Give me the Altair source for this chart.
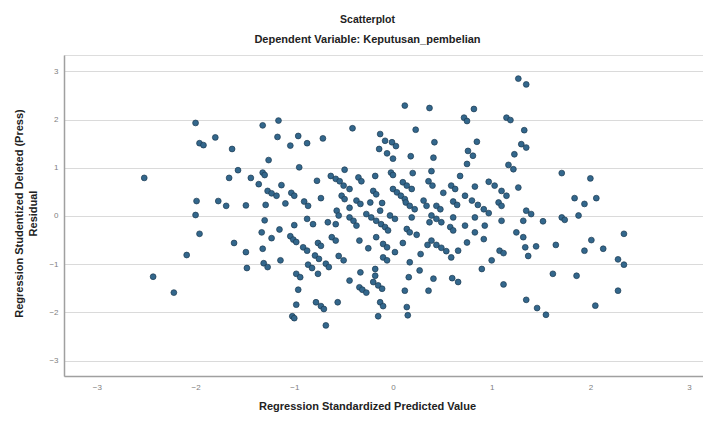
import altair as alt
import pandas as pd

# Regression Standardized Predicted Value (x) and Studentized Deleted Residual (y)
pred = [
    -2.52, -2.43, -2.22, -2.09, -2.00, -1.96, -1.92, -1.80, -1.63, -1.57,
    -1.66, -1.99, -1.77, -1.69, -2.00, -1.96, -1.61, -1.49, -1.49, -1.48,
    -1.44, -1.36, -1.32, -1.32, -1.30, -1.26, -1.29, -1.30, -1.33, -1.32,
    -1.31, -1.27, -1.27, -1.23, -1.18, -1.23, -1.16, -1.17, -1.15, -1.14,
    -1.13, -1.09, -1.04, -1.04, -1.01, -0.98, -1.03, -1.00, -1.00, -0.96,
    -0.95, -0.98, -0.94, -0.96, -0.98, -1.02, -1.00, -0.90, -0.86, -0.87,
    -0.81, -0.91, -0.87, -0.86, -0.82, -0.87, -0.79, -0.75, -0.77, -0.76,
    -0.73, -0.73, -0.76, -0.78, -0.73, -0.70, -0.68, -0.71, -0.68, -0.65,
    -0.66, -0.63, -0.58, -0.54, -0.50, -0.62, -0.58, -0.58, -0.57, -0.55,
    -0.55, -0.50, -0.56, -0.52, -0.49, -0.49, -0.44, -0.44, -0.44, -0.40,
    -0.37, -0.44, -0.41, -0.37, -0.33, -0.35, -0.32, -0.34, -0.33, -0.34,
    -0.31, -0.27, -0.27, -0.22, -0.17, -0.12, -0.08, -0.05, -0.25, -0.23,
    -0.20, -0.17, -0.18, -0.17, -0.18, -0.18, -0.20, -0.15, -0.11, -0.13,
    -0.10, -0.15, -0.13, -0.08, -0.14, -0.06, 0.00, -0.01, 0.03, -0.11,
    -0.13, -0.10, -0.06, -0.10, -0.06, -0.02, 0.00, 0.00, 0.04, 0.08,
    0.12, 0.13, 0.17, 0.22, -0.03, 0.02, 0.02, 0.10, 0.14, 0.20,
    0.19, 0.10, 0.14, 0.17, 0.19, 0.12, 0.18, 0.23, 0.17, 0.16,
    0.12, 0.14, 0.15, 0.24, 0.27, 0.28, 0.31, 0.34, 0.37, 0.37,
    0.35, 0.36, 0.36, 0.40, 0.39, 0.41, 0.42, 0.41, 0.39, 0.44,
    0.49, 0.44, 0.48, 0.39, 0.44, 0.49, 0.54, 0.59, 0.51, 0.58,
    0.61, 0.59, 0.63, 0.61, 0.65, 0.61, 0.60, 0.66, 0.66, 0.68,
    0.72, 0.75, 0.82, 0.75, 0.73, 0.73, 0.75, 0.76, 0.81, 0.85,
    0.80, 0.86, 0.92, 0.97, 0.83, 0.83, 0.83, 0.92, 0.93, 0.90,
    0.97, 1.03, 1.10, 1.15, 1.00, 1.08, 1.12, 1.12, 1.07, 1.10,
    1.10, 1.15, 1.19, 1.17, 1.22, 1.23, 1.27, 1.35, 1.33, 1.30,
    1.35, 1.27, 1.25, 1.32, 1.32, 1.34, 1.37, 1.35, 1.40, 1.35,
    1.46, 1.55, 1.45, 1.52, 1.62, 1.65, 1.71, 1.71, 1.74, 1.84,
    1.86, 1.88, 1.94, 1.94, 2.00, 2.01, 2.05, 2.06, 2.13, 2.28,
    2.34, 2.28, 2.34,
]
resid = [
    0.79, -1.26, -1.59, -0.81, 1.93, 1.51, 1.47, 1.63, 1.39, 0.95,
    0.79, 0.31, 0.31, 0.21, 0.02, -0.37, -0.56, 0.22, -0.75, -1.08,
    0.79, 0.66, 1.88, 0.90, 0.85, 1.16, 0.23, -0.09, -0.34, -0.68,
    -0.98, -1.06, 0.52, 0.47, 0.42, -0.46, 1.98, 1.64, -0.28, -0.92,
    0.64, 0.26, 1.46, -0.42, -0.49, -0.54, 0.48, 0.42, -0.19, 1.66,
    1.01, -1.20, -1.27, -1.53, -1.84, -2.08, -2.12, 0.30, 0.21, -0.06,
    -0.17, -0.65, -0.72, -1.01, -1.08, 1.51, -0.82, -0.89, 0.73, -0.56,
    -0.62, 0.37, -1.20, -1.79, -1.87, -1.93, -2.27, 1.61, -0.99, -1.06,
    -0.13, 0.83, 0.77, 0.72, 0.63, -0.44, -0.51, -0.17, 0.11, 0.01,
    -0.83, -0.92, -1.79, 0.42, 0.35, 0.96, 0.56, 0.17, -0.03, -0.10,
    -0.20, -1.34, 1.82, 0.32, 0.25, 0.80, 0.72, -0.51, -1.17, -1.48,
    -1.53, -1.59, 0.04, -0.03, -0.10, -0.17, -0.23, -0.30, -0.67, 0.28,
    0.52, 0.45, 0.83, -0.44, -1.10, -1.24, -1.37, -1.44, -1.51, -1.79,
    -1.87, -2.08, 1.70, 1.56, 1.39, 1.30, 1.19, 1.53, 1.45, 0.27,
    0.11, -0.58, -0.65, -0.86, -0.92, 0.90, 0.85, 0.56, 0.49, 0.42,
    0.35, 0.28, 0.21, 0.14, 0.01, -0.06, -0.75, 0.70, 0.63, 0.89,
    0.56, -0.56, -0.27, -0.34, -0.03, 2.29, 1.24, 1.79, -0.96, -1.27,
    -1.55, -1.89, -2.06, -0.39, -1.13, -0.79, 0.32, 0.21, 2.24, -0.13,
    -0.60, -1.55, 0.72, 0.63, 0.93, 1.21, 1.53, -1.30, 0.01, -0.06,
    -0.13, 0.21, 0.14, -0.51, -0.60, -0.66, -0.73, -0.86, 0.48, -0.23,
    -0.30, 0.63, 0.56, 0.30, 0.23, -0.03, -1.29, -1.37, -0.72, 0.83,
    2.04, 1.97, 2.22, 1.08, 0.42, -0.20, -0.55, 1.35, 1.25, 1.54,
    0.32, 0.23, 0.14, 0.06, 0.61, -0.03, -0.34, -0.48, -0.20, -1.10,
    0.71, 0.63, 0.52, 0.42, -0.92, -0.72, -0.77, -1.42, 0.28, 0.21,
    -0.10, 2.04, 1.99, 1.06, 0.97, 1.28, 2.85, 2.73, 1.78, 1.49,
    1.42, 0.59, -0.34, -0.44, -0.10, -0.65, -0.83, 0.11, 0.04, -1.74,
    -1.91, -2.05, -0.63, -0.11, -1.20, -0.60, 0.89, -0.03, -0.08, 0.37,
    -1.24, 0.01, 0.25, -0.72, 0.78, -0.50, -1.86, 0.37, -0.68, -0.90,
    -1.01, -1.55, -0.37,
]

n = min(len(pred), len(resid))
df = pd.DataFrame({"pred": pred[:n], "resid": resid[:n]})

tick_vals = [-3, -2, -1, 0, 1, 2, 3]
FONT = "Liberation Sans"

chart = (
    alt.Chart(df)
    .mark_circle(size=34, color="#33678c", stroke="#1d3b52", strokeWidth=0.7, opacity=1)
    .encode(
        x=alt.X(
            "pred:Q",
            scale=alt.Scale(domain=[-3.333, 3.141], nice=False, zero=False),
            axis=alt.Axis(
                values=tick_vals,
                grid=False,
                ticks=False,
                domainColor="#a0a0a0",
                domainWidth=1.5,
                labelFontSize=8,
                labelColor="#808080",
                labelPadding=7,
                labelFont=FONT,
                title="Regression Standardized Predicted Value",
                titleFont=FONT,
                titleFontSize=11,
                titleFontWeight="bold",
                titleColor="#222222",
                titleX=303,
                titleY=30,
                titleAlign="center",
                titleBaseline="middle",
            ),
        ),
        y=alt.Y(
            "resid:Q",
            scale=alt.Scale(domain=[-3.32, 3.34], nice=False, zero=False),
            axis=alt.Axis(
                values=tick_vals,
                grid=True,
                gridColor="#dadada",
                gridWidth=1,
                ticks=False,
                domainColor="#a0a0a0",
                domainWidth=1.5,
                labelFontSize=8,
                labelColor="#808080",
                labelPadding=6,
                labelFont=FONT,
                title=["Regression Studentized Deleted (Press)", "Residual"],
                titleFont=FONT,
                titleFontSize=11,
                titleFontWeight="bold",
                titleColor="#222222",
                titleAngle=-90,
                titleX=-42,
                titleY=158,
                titleAlign="center",
                titleBaseline="alphabetic",
                titleLineHeight=14,
            ),
        ),
    )
    .properties(
        width=639,
        height=321,
        padding={"left": 56, "top": 47, "right": 0, "bottom": 37},
        autosize=alt.AutoSizeParams(type="none"),
        title=alt.TitleParams(
            text="Scatterplot",
            subtitle="Dependent Variable: Keputusan_pembelian",
            anchor="middle",
            frame="group",
            dx=-16,
            offset=10,
            font=FONT,
            fontSize=10.5,
            fontWeight="bold",
            color="#222222",
            subtitleFont=FONT,
            subtitleFontSize=11,
            subtitleFontWeight="bold",
            subtitleColor="#222222",
            subtitlePadding=9,
        ),
    )
    .configure_view(stroke=None)
    .configure(background="white")
)

chart.save("out.html", embed_options={"renderer": "svg", "actions": False})
